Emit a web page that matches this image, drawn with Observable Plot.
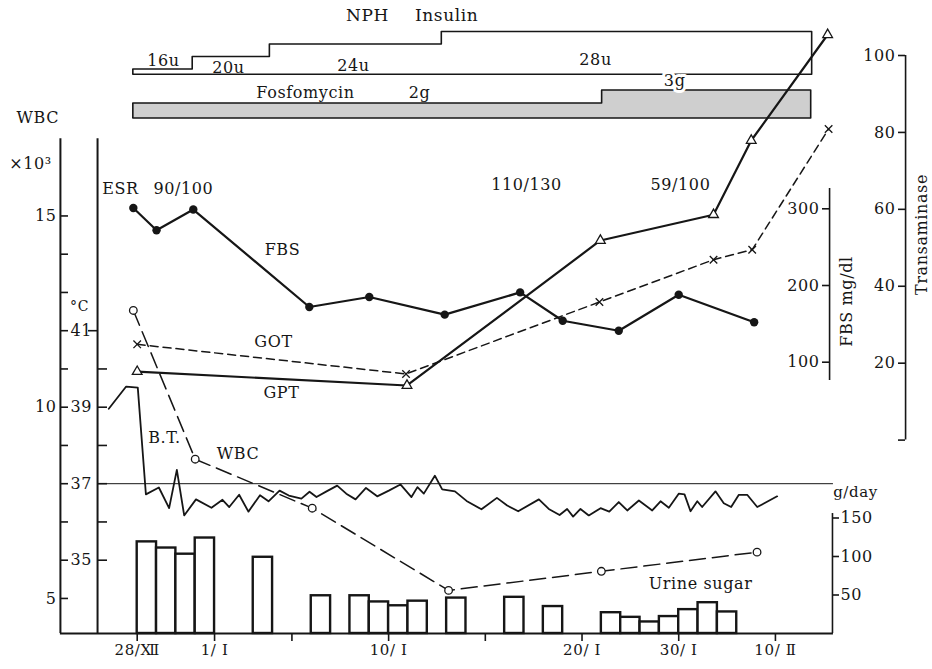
<!DOCTYPE html>
<html>
<head>
<meta charset="utf-8">
<script src="https://cdn.jsdelivr.net/npm/d3@7"></script>
<script src="https://cdn.jsdelivr.net/npm/@observablehq/plot@0.6"></script>
<style>
  html, body { margin: 0; padding: 0; background: #fff; }
  #chart { position: relative; width: 932px; height: 669px; overflow: hidden; }
  #chart svg { position: absolute; left: 0; top: 0; }
  #chart text { letter-spacing: 0.6px; }
</style>
</head>
<body>
<div id="chart"></div>
<script>
// ---------------- data (day 0 = 28/XII) ----------------
const tickDays   = [0, 4, 8, 13, 18, 23, 28, 33];
const tickLabels = ["28/Ⅻ", "1/ Ⅰ", "", "10/ Ⅰ", "", "20/ Ⅰ", "30/ Ⅰ", "10/ Ⅱ"];

const fbsDay   = [-0.2, 1.0, 2.9, 8.9, 12.0, 15.9, 19.8, 22.0, 24.9, 28.0, 31.9];
const fbsValue = [301, 272, 299, 172, 185, 162, 191, 154, 141, 188, 152];

const gotDay   = [0, 13.9, 23.9, 29.8, 31.8, 35.75];
const gotValue = [24.9, 17.2, 35.9, 46.9, 49.5, 80.9];

const gptDay   = [0, 13.95, 23.95, 29.8, 31.75, 35.7];
const gptValue = [17.8, 14.2, 51.9, 58.6, 77.9, 105.4];

const wbcDay   = [-0.2, 3.0, 9.05, 16.1, 24.0, 32.05];
const wbcValue = [12.53, 8.64, 7.36, 5.21, 5.71, 6.21];

const btDay = [-1.47, -0.57, 0.03, 0.45, 1.12, 1.65, 2.05, 2.43, 3.04, 3.84,
  4.41, 4.76, 5.27, 5.75, 6.35, 6.79, 7.36, 7.84, 8.49, 8.91,
  9.27, 9.79, 10.34, 10.81, 11.29, 11.83, 12.41, 13.01, 13.61, 14.18,
  14.49, 14.82, 15.39, 15.77, 16.43, 17.03, 17.80, 18.60, 19.13, 19.70,
  20.77, 21.28, 21.84, 22.23, 22.54, 22.92, 23.35, 23.96, 24.41, 24.90,
  25.34, 25.94, 26.63, 27.06, 27.49, 28.00, 28.30, 28.61, 28.96, 29.21,
  29.90, 30.33, 30.71, 31.11, 31.54, 32.06, 33.09];
const btTemp = [38.96, 39.54, 39.51, 36.72, 36.90, 36.36, 37.36, 36.17, 36.59, 36.37,
  36.58, 36.39, 36.71, 36.27, 36.70, 36.54, 36.82, 36.69, 36.61, 36.79,
  36.65, 36.80, 36.95, 36.74, 36.59, 36.89, 36.67, 36.82, 36.98, 36.65,
  36.91, 36.74, 37.21, 36.85, 36.80, 36.55, 36.33, 36.63, 36.43, 36.28,
  36.59, 36.34, 36.18, 36.34, 36.14, 36.34, 36.17, 36.36, 36.27, 36.52,
  36.30, 36.56, 36.30, 36.54, 36.37, 36.74, 36.72, 36.28, 36.54, 36.39,
  36.80, 36.49, 36.39, 36.71, 36.71, 36.39, 36.67];

const sugarDay   = [0, 1, 2, 3, 6, 9, 11, 12, 13, 14, 16, 19, 21, 24, 25, 26, 27, 28, 29, 30];
const sugarValue = [119, 111, 103, 124, 99, 49, 49, 41, 36, 42, 46, 47, 35, 27, 21, 15, 22, 31, 40, 28];

const insulinStart = [-0.2, 2.87, 6.86, 15.75];
const insulinDose  = [16, 20, 24, 28];
const insulinEnd   = 34.9;

const fosfoStart = [-0.2, 24.04];
const fosfoDose  = [2, 3];
const fosfoEnd   = 34.85;

const esrLabels = ["90/100", "110/130", "59/100"];

// ---------------- frame calibration ----------------
const W = 932, H = 669;
const DAY0_PX = 136.7, PX_PER_DAY = 19.34;
const xDomain = [(0 - DAY0_PX) / PX_PER_DAY, (W - DAY0_PX) / PX_PER_DAY];
// linear y domain from two (value, pixel) reference pairs, range [H, 0]
function yDomain(v1, p1, v2, p2) {
  const k = (v2 - v1) / (p2 - p1);
  return [v1 + (H - p1) * k, v1 - p1 * k];
}
const INK = "#161616";
const FONT = "'DejaVu Serif', 'Liberation Serif', 'Noto Sans CJK JP', serif";

function layer(yd, marks, hasX = false, hasY = false) {
  return Plot.plot({
    width: W, height: H,
    marginTop: 0, marginRight: 0, marginBottom: 0, marginLeft: 0,
    style: { background: "transparent", fontFamily: FONT, fontSize: "16px", color: INK, overflow: "visible" },
    x: hasX ? { domain: xDomain } : { domain: xDomain, axis: null },
    y: hasY ? { domain: yd } : { domain: yd, axis: null },
    marks
  });
}

const zip2 = (a, b, ka, kb) => a.map((v, i) => ({ [ka]: v, [kb]: b[i] }));
const fbs   = zip2(fbsDay, fbsValue, "day", "v");
const got   = zip2(gotDay, gotValue, "day", "v");
const gpt   = zip2(gptDay, gptValue, "day", "v");
const wbc   = zip2(wbcDay, wbcValue, "day", "v");
const bt    = zip2(btDay, btTemp, "day", "v");
const sugar = zip2(sugarDay, sugarValue, "day", "v");
const insulinPts = zip2(insulinStart, insulinDose, "day", "v")
  .concat({ day: insulinEnd, v: insulinDose[insulinDose.length - 1] });
const fosfoPts = zip2(fosfoStart, fosfoDose, "day", "v")
  .concat({ day: fosfoEnd, v: fosfoDose[fosfoDose.length - 1] });
const labelOf = new Map(tickDays.map((d, i) => [d, tickLabels[i]]));

// axis line positions (in days) and extents
const AX_WBC = -3.97, AX_TEMP = -2.05, AX_FBS = 35.80, AX_SUGAR = 35.95, AX_TRANS = 39.73, FRAME_R = 36.0;

const layers = [];

// 1. NPH insulin
layers.push(layer(yDomain(16, 69, 28, 31.5), [
  Plot.areaY(insulinPts, { x: "day", y1: 14.3, y2: "v", curve: "step-after", fill: "white", stroke: INK, strokeWidth: 1.6 }),
  Plot.text([{ t: "NPH", x: 11.91 }, { t: "Insulin", x: 16.0 }], { x: "x", y: 33.28, text: "t", fontSize: 17, fill: INK }),
  Plot.text(insulinDose.map((d, i) => ({ t: d + "u", x: [1.36, 4.72, 11.18, 23.70][i], y: [18.88, 16.64, 17.28, 19.2][i] })),
    { x: "x", y: "y", text: "t", fontSize: 16, fill: INK })
]));

// 2. Fosfomycin
layers.push(layer(yDomain(2, 103, 3, 90), [
  Plot.areaY(fosfoPts, { x: "day", y1: 0.846, y2: "v", curve: "step-after", fill: "#cfcfcf", stroke: INK, strokeWidth: 1.6 }),
  Plot.text(["Fosfomycin"], { x: 8.70, y: 2.846, text: d => d, fontSize: 16, fill: INK }),
  Plot.text([fosfoDose[0] + "g"], { x: 14.60, y: 2.846, text: d => d, fontSize: 16, fill: INK }),
  Plot.text([fosfoDose[1] + "g"], { x: 27.79, y: 3.77, text: d => d, fontSize: 16, fill: INK, stroke: "white", strokeWidth: 6 })
]));

// 3. Urine sugar (g/day) + time axis
layers.push(layer(yDomain(0, 633, 100, 556), [
  Plot.rect(sugar, { x1: "day", x2: d => d.day + 1, y1: 0, y2: "v", fill: "white", stroke: INK, strokeWidth: 2.4 }),
  Plot.ruleY([0], { x1: AX_WBC, x2: FRAME_R, stroke: INK, strokeWidth: 2 }),
  Plot.ruleX([AX_SUGAR], { y1: 0, y2: 155.8, stroke: INK, strokeWidth: 1.6 }),
  Plot.axisY({ anchor: "right", ticks: [50, 100, 150], tickSize: 6, tickPadding: 2, dx: -100, fontSize: 16, label: null, stroke: INK, strokeWidth: 1.6, fill: INK }),
  Plot.axisX({ anchor: "bottom", ticks: tickDays, tickFormat: d => labelOf.get(d), tickSize: 8, tickPadding: 3, dy: -36, fontSize: 15, label: null, stroke: INK, strokeWidth: 1.6, fill: INK }),
  Plot.text(["Urine sugar"], { x: 29.13, y: 64.9, text: d => d, fontSize: 16, fill: INK }),
  Plot.text(["g/day"], { x: 37.14, y: 183.1, text: d => d, fontSize: 15, fill: INK })
], true, true));

// 4. Body temperature (°C)
layers.push(layer(yDomain(39, 406.7, 37, 483.2), [
  Plot.ruleY([37], { x1: AX_TEMP, x2: FRAME_R, stroke: INK, strokeWidth: 1 }),
  Plot.line(bt, { x: "day", y: "v", stroke: INK, strokeWidth: 1.8 }),
  Plot.axisY({ anchor: "right", ticks: [35, 37, 39, 41], tickSize: 0, tickPadding: 10, dx: -872, fontSize: 16, label: null, fill: INK }),
  Plot.axisY({ anchor: "right", ticks: [35, 36, 37, 38, 39, 40], tickSize: 9, tickFormat: () => "", dx: -835, label: null, stroke: INK, strokeWidth: 1.6 }),
  Plot.axisY({ anchor: "left", ticks: [41], tickSize: 9, tickFormat: () => "", dx: 97, label: null, stroke: INK, strokeWidth: 1.6 }),
  Plot.text(["°C"], { x: -2.98, y: 41.63, text: d => d, fontSize: 14, fill: INK }),
  Plot.text(["B.T."], { x: 1.41, y: 38.21, text: d => d, fontSize: 16, fill: INK })
], false, true));

// 5. WBC (×10³)
layers.push(layer(yDomain(10, 406.7, 5, 597.95), [
  Plot.ruleX([AX_WBC, AX_TEMP], { y1: 4.084, y2: 17.02, stroke: INK, strokeWidth: 2 }),
  Plot.axisY({ anchor: "right", ticks: d3.range(5, 16), tickSize: 7, tickFormat: () => "", dx: -872, label: null, stroke: INK, strokeWidth: 1.6 }),
  Plot.axisY({ anchor: "left", ticks: [5, 10, 15], tickSize: 0, tickPadding: 4, dx: 60, fontSize: 16, label: null, fill: INK }),
  Plot.line(wbc, { x: "day", y: "v", stroke: INK, strokeWidth: 1.5, strokeDasharray: "16,7" }),
  Plot.dot(wbc, { x: "day", y: "v", r: 3.8, fill: "white", stroke: INK, strokeWidth: 1.3 }),
  Plot.text(["WBC"], { x: -5.14, y: 17.57, text: d => d, fontSize: 16, fill: INK }),
  Plot.text(["×10³"], { x: -5.52, y: 16.35, text: d => d, fontSize: 16, fill: INK }),
  Plot.text(["WBC"], { x: 5.21, y: 8.79, text: d => d, fontSize: 16, fill: INK }),
  Plot.text(["ESR"], { x: -1.81, y: 15.72, text: d => d, fontSize: 16, textAnchor: "start", fill: INK }),
  Plot.text([{ t: esrLabels[0], x: 0.84 }], { x: "x", y: 15.72, text: "t", textAnchor: "start", fontSize: 16, fill: INK }),
  Plot.text([{ t: esrLabels[1], x: 20.13 }, { t: esrLabels[2], x: 28.09 }], { x: "x", y: 15.82, text: "t", fontSize: 16, fill: INK })
], false, true));

// 6. FBS (mg/dl)
layers.push(layer(yDomain(200, 285, 300, 208.3), [
  Plot.ruleX([AX_FBS], { y1: 76.1, y2: 326.5, stroke: INK, strokeWidth: 1.6 }),
  Plot.axisY({ anchor: "left", ticks: [100, 200, 300], tickSize: 7, tickPadding: 3, dx: 829, fontSize: 16, label: null, stroke: INK, strokeWidth: 1.6, fill: INK }),
  Plot.line(fbs, { x: "day", y: "v", stroke: INK, strokeWidth: 2.2 }),
  Plot.dot(fbs, { x: "day", y: "v", r: 4.2, fill: INK }),
  Plot.text(["FBS"], { x: 7.51, y: 246.9, text: d => d, fontSize: 16, fill: INK }),
  Plot.text(["FBS mg/dl"], { x: 36.67, y: 179.1, text: d => d, rotate: -90, fontSize: 16, fill: INK })
], false, true));

// 7. Transaminase (GOT / GPT)
layers.push(layer(yDomain(0, 439.6, 100, 55), [
  Plot.ruleX([AX_TRANS], { y1: 0, y2: 100, stroke: INK, strokeWidth: 1.6 }),
  Plot.axisY({ anchor: "left", ticks: [0, 20, 40, 60, 80, 100], tickFormat: d => (d === 0 ? "" : d), tickSize: 7, tickPadding: 3, dx: 905, fontSize: 16, label: null, stroke: INK, strokeWidth: 1.6, fill: INK }),
  Plot.line(got, { x: "day", y: "v", stroke: INK, strokeWidth: 1.5, strokeDasharray: "8,5" }),
  Plot.dot(got, { x: "day", y: "v", symbol: "times", r: 3.5, stroke: INK, strokeWidth: 1.3 }),
  Plot.line(gpt, { x: "day", y: "v", stroke: INK, strokeWidth: 2.2 }),
  Plot.dot(gpt, { x: "day", y: "v", symbol: "triangle", r: 3.6, fill: "white", stroke: INK, strokeWidth: 1.3 }),
  Plot.text(["GOT"], { x: 7.05, y: 25.6, text: d => d, fontSize: 16, fill: INK }),
  Plot.text(["GPT"], { x: 7.46, y: 12.4, text: d => d, fontSize: 16, fill: INK }),
  Plot.text(["Transaminase"], { x: 40.55, y: 53.46, text: d => d, rotate: -90, fontSize: 16, fill: INK })
], false, true));

const host = document.getElementById("chart");
layers.forEach(svg => host.appendChild(svg));
</script>
</body>
</html>
